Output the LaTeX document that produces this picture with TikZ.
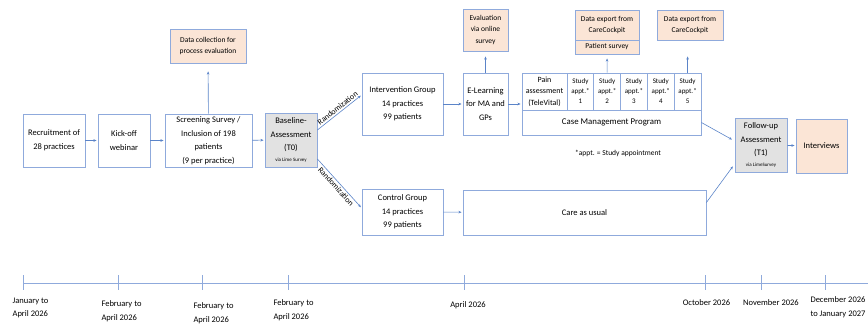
\documentclass[tikz,border=0pt]{standalone}
\usepackage{fontspec}
\setmainfont{Carlito}
\usetikzlibrary{positioning, arrows.meta}

\definecolor{boxline}{HTML}{8FAADC}
\definecolor{linkblue}{HTML}{5B84C8}
\definecolor{peach}{HTML}{FBE5D6}
\definecolor{greyfill}{HTML}{E2E2E2}

\newcommand{\txtmain}{\fontsize{8.5}{13.5}\selectfont}
\newcommand{\txtmid}{\fontsize{7.5}{11.8}\selectfont}
\newcommand{\txtcell}{\fontsize{7}{10}\selectfont}
\newcommand{\txttiny}{\fontsize{5}{5.5}\selectfont}

\begin{document}
\begin{tikzpicture}[x=1pt, y=-1pt,
    box/.style={draw=boxline, line width=0.8pt, fill=white, align=center, inner sep=1pt, font=\txtmain},
    peachbox/.style={box, fill=peach, font=\txtmid},
    greybox/.style={box, fill=greyfill},
    flow/.style={-{Stealth[length=3.2pt, width=2.6pt]}, draw=linkblue, line width=0.6pt, shorten >=1pt},
    randlabel/.style={sloped, inner sep=1.5pt, font=\fontsize{8}{9}\selectfont},
    datelabel/.style={align=left, inner sep=0pt, font=\txtmain}]

    % fixed margins
    \useasboundingbox (0,0) rectangle (868,324);

    % preparation phase
    \node[box, minimum width=62pt, minimum height=53pt] (recruit) at (54, 140.5) {Recruitment of\\28 practices};
    \node[box, minimum width=52pt, minimum height=53pt] (kickoff) at (124, 140.5) {Kick-off\\webinar};
    \node[box, minimum width=87pt, minimum height=53pt] (screen) at (208.5, 140.5) {Screening Survey /\\Inclusion of 198\\patients\\(9 per practice)};
    \node[peachbox, minimum width=76pt, minimum height=34pt] (collect) at (208, 46) {Data collection for\\process evaluation};

    % baseline
    \node[greybox, minimum width=52pt, minimum height=54pt] (base) at (291, 140) {Baseline-\\Assessment\\(T0)\\[-3pt]{\txttiny via Lime Survey}};

    % the two groups
    \node[box, minimum width=81pt, minimum height=62pt] (interv) at (402.5, 104) {Intervention Group\\14 practices\\99 patients};
    \node[box, minimum width=81pt, minimum height=46pt] (control) at (402.5, 212) {Control Group\\14 practices\\99 patients};

    % intervention arm
    \node[box, minimum width=45pt, minimum height=62pt] (elearn) at (485.5, 104) {E-Learning\\for MA and\\GPs};
    \node[peachbox, minimum width=45pt, minimum height=42pt] (evalsurvey) at (485.5, 30) {Evaluation\\via online\\survey};

    % case management block
    \node[box, minimum width=45pt, minimum height=37pt, font=\fontsize{8}{11.5}\selectfont] (pain) at (544.5, 91.5) {Pain\\assessment\\(TeleVital)};
    \node[box, minimum width=26.8pt, minimum height=37pt, font=\txtcell] (study1) at (580.4, 91.5) {Study\\appt.*\\1};
    \node[box, minimum width=26.8pt, minimum height=37pt, font=\txtcell] (study2) at (607.2, 91.5) {Study\\appt.*\\2};
    \node[box, minimum width=26.8pt, minimum height=37pt, font=\txtcell] (study3) at (634, 91.5) {Study\\appt.*\\3};
    \node[box, minimum width=26.8pt, minimum height=37pt, font=\txtcell] (study4) at (660.8, 91.5) {Study\\appt.*\\4};
    \node[box, minimum width=26.8pt, minimum height=37pt, font=\txtcell] (study5) at (687.6, 91.5) {Study\\appt.*\\5};
    \node[box, minimum width=179pt, minimum height=25pt, font=\fontsize{8.8}{11}\selectfont] (cmp) at (611.5, 122.5) {Case Management Program};
    \node[font=\txtmid, inner sep=0pt] (footnote) at (618, 153) {*appt. = Study appointment};

    % data exports
    \node[peachbox, minimum width=64pt, minimum height=30pt] (export1) at (607, 25) {Data export from\\CareCockpit};
    \node[peachbox, minimum width=64pt, minimum height=14pt] (survey) at (607, 47) {Patient survey};
    \node[peachbox, minimum width=66pt, minimum height=30pt] (export2) at (690, 25) {Data export from\\CareCockpit};

    % control arm
    \node[box, minimum width=243pt, minimum height=45pt] (care) at (584.5, 212.5) {Care as usual};

    % follow-up
    \node[greybox, minimum width=52pt, minimum height=54pt] (follow) at (761, 145) {Follow-up\\Assessment\\(T1)\\[-3pt]{\txttiny via LimeSurvey}};
    \node[peachbox, minimum width=51pt, minimum height=54pt, font=\txtmain] (interviews) at (821.5, 146) {Interviews};

    % arrows
    \draw[flow] (recruit) -- (kickoff);
    \draw[flow] (kickoff) -- (screen);
    \draw[flow] (screen) -- (base);
    \draw[flow, shorten >=8pt] (screen) -- (collect);
    \draw[flow] ([yshift=10pt]base.east) -- node[randlabel, above, pos=0.52] {Randomization} ([yshift=9pt]interv.west);
    \draw[flow] ([yshift=-19pt]base.east) -- node[randlabel, below, pos=0.5] {Randomization} ([yshift=4pt]control.west);
    \draw[flow] (interv) -- (elearn);
    \draw[flow, shorten >=5pt] (elearn) -- (evalsurvey);
    \draw[flow] (elearn) -- (pain.west |- elearn);
    \draw[flow, shorten >=4pt] (study2) -- (survey);
    \draw[flow, shorten >=16pt] (study5.north) -- (export2.south -| study5.north);
    \draw[flow] (control) -- (care);
    \draw[flow, shorten >=3pt] (cmp.east) -- ([yshift=4pt]follow.west);
    \draw[flow, shorten >=3pt] ([yshift=10pt]care.east) -- ([yshift=-19pt]follow.west);
    \draw[flow] (follow) -- (interviews);

    % timeline
    \coordinate (axisL) at (23, 283);
    \coordinate (axisR) at (868, 283);
    \draw[boxline, line width=1pt] (axisL) -- (axisR);
    \foreach \tx in {23, 118, 202, 288, 464, 705, 761, 825}
        \draw[boxline, line width=0.8pt] (\tx, 275) -- (\tx, 290);

    % dates
    \node[datelabel] (dJan) at (30.5, 308) {January to\\April 2026};
    \node[datelabel] (dFebA) at (121.5, 311) {February to\\April 2026};
    \node[datelabel] (dFebB) at (213.5, 313) {February to\\April 2026};
    \node[datelabel] (dFebC) at (293.5, 310) {February to\\April 2026};
    \node[datelabel] (dApr) at (468, 305) {April 2026};
    \node[datelabel] (dOct) at (706.5, 303) {October 2026};
    \node[datelabel] (dNov) at (771, 303) {November 2026};
    \node[datelabel] (dDec) at (838, 307) {December 2026\\to January 2027};

\end{tikzpicture}
\end{document}
